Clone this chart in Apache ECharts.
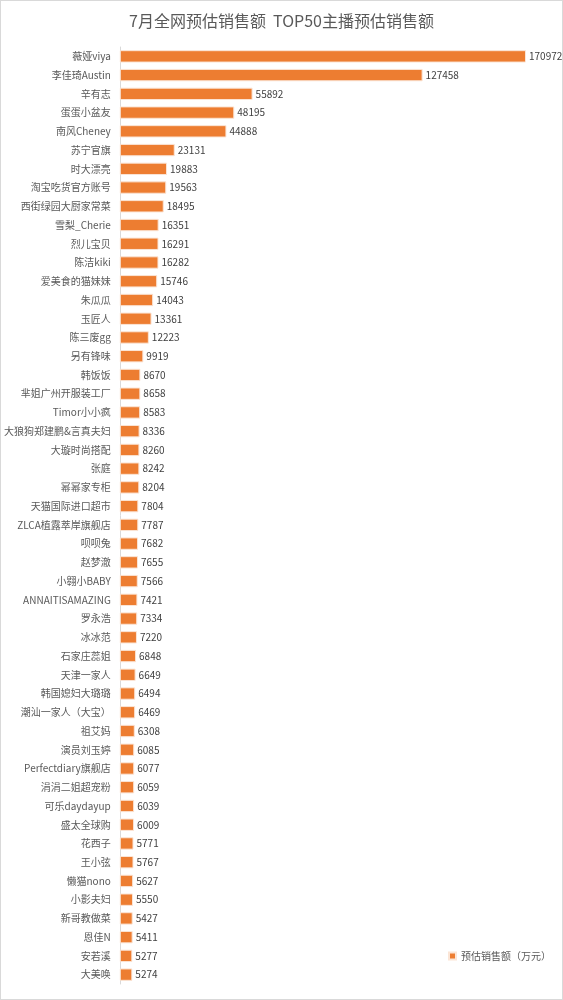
<!DOCTYPE html>
<html><head><meta charset="utf-8">
<script src="https://cdn.jsdelivr.net/npm/echarts@6/dist/echarts.min.js"></script>
<style>html,body{margin:0;padding:0;background:#fff}#c{width:563px;height:1000px;box-sizing:border-box;border:1px solid #d9d9d9}</style>
</head><body><div id="c"></div>
<script>
const categories = ["薇娅viya","李佳琦Austin","辛有志","蛋蛋小盆友","南风Cheney","苏宁官旗","时大漂亮","淘宝吃货官方账号","西街绿园大厨家常菜","雪梨_Cherie","烈儿宝贝","陈洁kiki","爱美食的猫妹妹","朱瓜瓜","玉匠人","陈三废gg","另有锋味","韩饭饭","芈姐广州开服装工厂","Timor小小疯","大狼狗郑建鹏&言真夫妇","大璇时尚搭配","张庭","幂幂家专柜","天猫国际进口超市","ZLCA植露萃岸旗舰店","呗呗兔","赵梦澈","小翱小BABY","ANNAITISAMAZING","罗永浩","冰冰范","石家庄蕊姐","天津一家人","韩国媳妇大璐璐","潮汕一家人（大宝）","祖艾妈","演员刘玉婷","Perfectdiary旗舰店","涓涓二姐超宠粉","可乐daydayup","盛太全球购","花西子","王小弦","懒猫nono","小影夫妇","新哥教做菜","恩佳N","安若溪","大美唤"];
const values = [170972,127458,55892,48195,44888,23131,19883,19563,18495,16351,16291,16282,15746,14043,13361,12223,9919,8670,8658,8583,8336,8260,8242,8204,7804,7787,7682,7655,7566,7421,7334,7220,6848,6649,6494,6469,6308,6085,6077,6059,6039,6009,5771,5767,5627,5550,5427,5411,5277,5274];
const seriesName = "预估销售额（万元）";
const title = "7月全网预估销售额  TOP50主播预估销售额";
const chart = echarts.init(document.getElementById('c'));
chart.setOption({
  animation:false,
  textStyle:{fontFamily:"Noto Sans CJK SC"},
  title:{text:title,left:'center',top:7,textStyle:{fontSize:16,fontWeight:'normal',color:'#595959',fontFamily:"Noto Sans CJK SC"}},
  legend:{right:6,top:945,itemWidth:7,itemHeight:7,icon:'rect',textStyle:{fontSize:10,color:'#595959'},data:[seriesName]},
  grid:{left:118,right:36,top:46,height:937,containLabel:false},
  xAxis:{type:'value',min:0,max:'dataMax',show:false},
  yAxis:{type:'category',inverse:true,data:categories,
    axisLine:{lineStyle:{color:'#d9d9d9'}},axisTick:{show:false},
    axisLabel:{fontSize:10,color:'#595959',margin:9}},
  series:[{name:seriesName,type:'bar',data:values,barCategoryGap:'34%',
    itemStyle:{color:'#ED7D31',borderColor:'#fbe5d6',borderWidth:1},
    label:{show:true,position:'right',distance:3,fontSize:10,color:'#404040'}}]
});
</script></body></html>
